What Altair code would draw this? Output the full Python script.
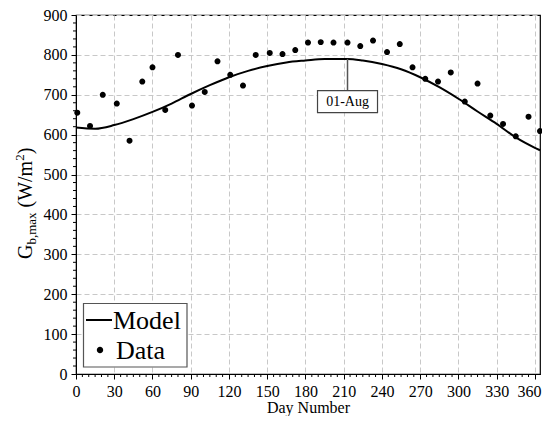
import altair as alt
import pandas as pd

# ---- data ----
data_day = [1, 11, 21, 32, 42, 52, 60, 70, 80, 91, 101, 111, 121, 131, 141, 152, 162, 172, 182,
            192, 202, 213, 223, 233, 244, 254, 264, 274, 284, 294, 305, 315, 325, 335, 345, 355, 364]
data_val = [655, 622, 700, 678, 585, 733, 769, 662, 800, 673, 707, 784, 750, 723, 800, 805, 802, 812, 831,
            832, 831, 831, 822, 836, 807, 827, 769, 740, 733, 756, 683, 728, 648, 627, 596, 645, 609]

model_day = [0, 15, 30, 45, 60, 75, 90, 105, 120, 135, 150, 165, 180, 195, 213, 225, 240, 255,
             270, 285, 300, 315, 330, 345, 360, 364]
model_val = [618, 615, 624, 639, 657, 678, 702, 724, 744, 760, 772, 781, 786, 790, 790, 786, 777, 764,
             744, 719, 690, 658, 627, 593, 567, 561]

ann_day = [213]
ann_top = [790]
ann_bottom = [710]
ann_center = [683]
ann_label = ["01-Aug"]

x_ticks = list(range(0, 361, 30))
y_ticks = list(range(0, 901, 100))
x_minor = [v for v in range(0, 365, 5) if v % 30 != 0]
y_minor = [v for v in range(0, 901, 20) if v % 100 != 0]

legend_labels = ["Model", "Data"]

W, H = 464, 359
FONT = "Liberation Serif"
DOT_PATH = "M-0.2,0A0.2,0.2,0,1,1,0.2,0A0.2,0.2,0,1,1,-0.2,0Z"
BOX_PATH = "M-1,-0.367H1V0.367H-1Z"

df_data = pd.DataFrame({"day": data_day, "val": data_val})
df_model = pd.DataFrame({"day": model_day, "val": model_val})
df_ann = pd.DataFrame({"day": ann_day, "top": ann_top, "bottom": ann_bottom,
                       "center": ann_center, "label": ann_label})

xscale = alt.Scale(domain=[0, 364], nice=False, zero=False)
yscale = alt.Scale(domain=[0, 900], nice=False)

xaxis = alt.Axis(values=x_ticks, title="Day Number", grid=True, gridDash=[5, 3], gridColor="#c8c8c8",
                 tickSize=5, tickColor="black", domainColor="black", labelFont=FONT, labelFontSize=16,
                 labelColor="black", titleFont=FONT, titleFontSize=16, titleFontWeight="normal",
                 titleColor="black", labelPadding=4, titlePadding=0, labelFlush=False,
                 labelAlign={"condition": {"test": "datum.value === 360", "value": "right"}, "value": "center"},
                 labelOffset={"condition": {"test": "datum.value === 360", "value": 6}, "value": 0},
                 labelOverlap=False, labelBound=False)
yaxis = alt.Axis(values=y_ticks, title="", grid=True, gridDash=[5, 3], gridColor="#c8c8c8",
                 tickSize=5, tickColor="black", domainColor="black", labelFont=FONT, labelFontSize=16,
                 labelColor="black", labelPadding=4, labelOverlap=False)


def X(field):
    return alt.X(field, scale=xscale, axis=xaxis, title="Day Number")


def Y(field):
    return alt.Y(field, scale=yscale, axis=yaxis, title="")


line = alt.Chart(df_model).mark_line(color="black", strokeWidth=2, interpolate="monotone").encode(
    x=X("day:Q"), y=Y("val:Q"))

pts = alt.Chart(df_data).mark_point(shape=DOT_PATH, filled=False, size=506, opacity=1, fill="black",
                                    fillOpacity=1, stroke="black", strokeWidth=1.5).encode(
    x=X("day:Q"), y=Y("val:Q"))

rule = alt.Chart(df_ann).mark_rule(color="#555555", strokeWidth=1.5).encode(
    x=X("day:Q"), y=Y("top:Q"), y2="bottom:Q")
box = alt.Chart(df_ann).mark_point(shape=BOX_PATH, size=3600, filled=False, fill="white", fillOpacity=1,
                                   stroke="#444444", strokeWidth=1.2, opacity=1).encode(
    x=X("day:Q"), y=Y("center:Q"))
txt = alt.Chart(df_ann).mark_text(font=FONT, fontSize=14, color="black", baseline="middle").encode(
    x=X("day:Q"), y=Y("center:Q"), text="label:N")

minor_x = alt.Chart(pd.DataFrame({"v": x_minor})).mark_rule(color="black", strokeWidth=1).encode(
    x=X("v:Q"), y=alt.value(H), y2=alt.value(H + 3))
minor_y = alt.Chart(pd.DataFrame({"v": y_minor})).mark_rule(color="black", strokeWidth=1).encode(
    y=Y("v:Q"), x=alt.value(0), x2=alt.value(-3))

# legend (box, line sample, dot sample, labels)
one = pd.DataFrame({"k": [0]})
leg_box = alt.Chart(one).mark_rect(fill="white", stroke="#555555", strokeWidth=1.2).encode(
    x=alt.value(7.5), x2=alt.value(111), y=alt.value(288.5), y2=alt.value(352))
leg_line = alt.Chart(one).mark_rule(color="black", strokeWidth=2).encode(
    x=alt.value(10), x2=alt.value(36), y=alt.value(305))
leg_dot = alt.Chart(one).mark_point(shape=DOT_PATH, filled=False, size=600, fill="black", fillOpacity=1,
                                    stroke="black", strokeWidth=1.5, opacity=1).encode(
    x=alt.value(24), y=alt.value(335))
leg_t1 = alt.Chart(one).mark_text(font=FONT, fontSize=26, color="black", align="left",
                                  baseline="alphabetic").encode(
    x=alt.value(37), y=alt.value(313.5), text=alt.value(legend_labels[0]))
leg_t2 = alt.Chart(one).mark_text(font=FONT, fontSize=26, color="black", align="left",
                                  baseline="alphabetic").encode(
    x=alt.value(40), y=alt.value(343.5), text=alt.value(legend_labels[1]))

# y-axis title G_{b,max} (W/m^2) built from pieces
title_pieces = [
    ("G", 20, -44, 244),
    ("b,max", 13, -40, 229.6),
    ("(W/m", 20, -44, 192.5),
    ("2", 13, -52, 145.8),
    (")", 20, -44, 139.3),
]
title_layers = []
for t, fs, px, py in title_pieces:
    title_layers.append(
        alt.Chart(pd.DataFrame({"t": [t]})).mark_text(font=FONT, fontSize=fs, color="black", angle=270,
                                                      align="left", baseline="alphabetic").encode(
            x=alt.value(px), y=alt.value(py), text="t:N")
    )

chart = alt.layer(line, pts, rule, box, txt, minor_x, minor_y,
                  leg_box, leg_line, leg_dot, leg_t1, leg_t2, *title_layers).properties(
    width=W, height=H,
    autosize=alt.AutoSizeParams(type="none"),
    padding={"left": 68, "top": 7, "right": 2, "bottom": 42},
).configure(font=FONT).configure_view(stroke="black", strokeWidth=1.2).configure_axis(labelOverlap=False)

chart.save("out.html", embed_options={"renderer": "svg", "actions": False})
